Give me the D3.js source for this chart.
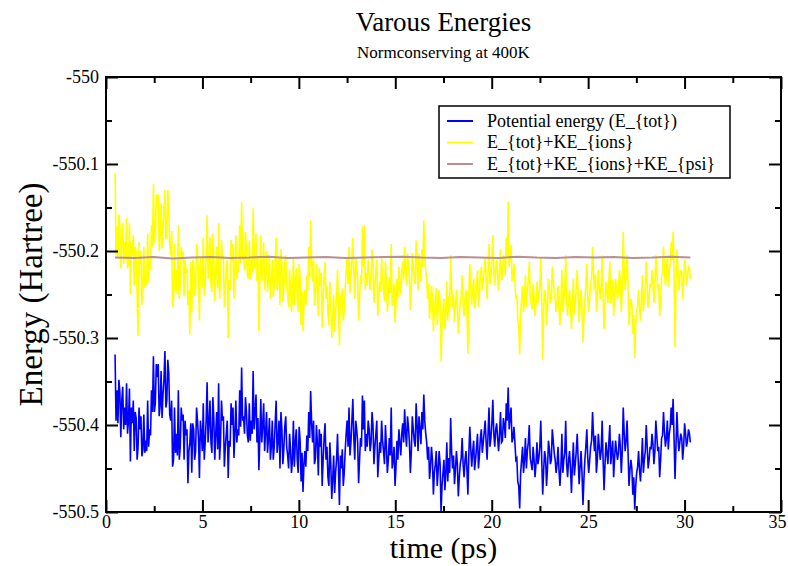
<!DOCTYPE html>
<html>
<head>
<meta charset="utf-8">
<script src="https://cdn.jsdelivr.net/npm/d3@7"></script>
<style>
    body { margin: 0; background: #fff; }
    text { font-family: "Liberation Serif", "Times New Roman", serif; fill: #000; }
</style>
</head>
<body>
<svg id="chart" width="788" height="566"></svg>
<script>
"use strict";

const tStart = 0.47, tEnd = 30.3;

const potentialEnergy = [
    -550.319,-550.395,-550.360,-550.398,-550.348,-550.362,-550.414,-550.372,-550.356,-550.405,-550.380,-550.400,-550.352,-550.410,-550.395,-550.358,-550.442,-550.380,-550.398,-550.372,
    -550.430,-550.385,-550.392,-550.440,-550.425,-550.380,-550.405,-550.390,-550.436,-550.428,-550.388,-550.432,-550.418,-550.430,-550.372,-550.425,-550.405,-550.412,-550.360,-550.385,
    -550.321,-550.385,-550.375,-550.330,-550.345,-550.330,-550.390,-550.378,-550.338,-550.392,-550.365,-550.348,-550.315,-550.380,-550.372,-550.325,-550.340,-550.388,-550.395,-550.372,
    -550.448,-550.440,-550.380,-550.432,-550.410,-550.435,-550.360,-550.440,-550.425,-550.380,-550.395,-550.388,-550.440,-550.395,-550.412,-550.405,-550.467,-550.430,-550.420,-550.398,
    -550.455,-550.398,-550.405,-550.440,-550.430,-550.380,-550.395,-550.415,-550.461,-550.395,-550.410,-550.430,-550.375,-550.440,-550.420,-550.395,-550.351,-550.420,-550.398,-550.372,
    -550.420,-550.432,-550.368,-550.392,-550.440,-550.410,-550.385,-550.428,-550.352,-550.440,-550.418,-550.372,-550.395,-550.390,-550.448,-550.425,-550.410,-550.395,-550.461,-550.418,
    -550.425,-550.375,-550.400,-550.380,-550.438,-550.410,-550.372,-550.420,-550.405,-550.412,-550.360,-550.402,-550.334,-550.395,-550.390,-550.410,-550.368,-550.385,-550.412,-550.420,
    -550.375,-550.418,-550.395,-550.410,-550.338,-550.405,-550.385,-550.365,-550.420,-550.392,-550.452,-550.415,-550.370,-550.420,-550.400,-550.375,-550.430,-550.408,-550.385,-550.432,
    -550.415,-550.392,-550.440,-550.425,-550.395,-550.440,-550.425,-550.398,-550.372,-550.432,-550.418,-550.395,-550.450,-550.385,-550.405,-550.445,-550.428,-550.402,-550.390,-550.425,
    -550.435,-550.450,-550.410,-550.428,-550.455,-550.440,-550.395,-550.448,-550.420,-550.405,-550.440,-550.455,-550.402,-550.418,-550.465,-550.432,-550.477,-550.445,-550.430,-550.448,
    -550.412,-550.430,-550.385,-550.415,-550.361,-550.398,-550.420,-550.395,-550.445,-550.438,-550.400,-550.420,-550.458,-550.405,-550.425,-550.410,-550.470,-550.440,-550.415,-550.398,
    -550.440,-550.425,-550.460,-550.470,-550.420,-550.445,-550.485,-550.462,-550.435,-550.478,-550.455,-550.440,-550.410,-550.450,-550.492,-550.435,-550.450,-550.428,-550.470,-550.455,
    -550.430,-550.410,-550.395,-550.425,-550.380,-550.435,-550.420,-550.395,-550.370,-550.415,-550.440,-550.395,-550.405,-550.420,-550.467,-550.440,-550.415,-550.425,-550.366,-550.405,
    -550.372,-550.430,-550.410,-550.425,-550.395,-550.405,-550.430,-550.420,-550.385,-550.400,-550.445,-550.425,-550.410,-550.395,-550.460,-550.440,-550.420,-550.432,-550.395,-550.418,
    -550.430,-550.445,-550.400,-550.425,-550.455,-550.440,-550.415,-550.435,-550.380,-550.450,-550.440,-550.425,-550.470,-550.448,-550.418,-550.440,-550.405,-550.420,-550.435,-550.410,
    -550.398,-550.420,-550.382,-550.410,-550.425,-550.390,-550.402,-550.420,-550.455,-550.430,-550.390,-550.405,-550.418,-550.425,-550.375,-550.400,-550.430,-550.390,-550.405,-550.422,
    -550.385,-550.405,-550.365,-550.395,-550.410,-550.420,-550.440,-550.425,-550.462,-550.448,-550.425,-550.440,-550.480,-550.455,-550.445,-550.430,-550.470,-550.452,-550.430,-550.445,
    -550.500,-550.470,-550.455,-550.440,-550.475,-550.455,-550.420,-550.465,-550.438,-550.455,-550.392,-550.430,-550.450,-550.435,-550.468,-550.452,-550.430,-550.445,-550.482,-550.460,
    -550.445,-550.438,-550.415,-550.445,-550.460,-550.440,-550.430,-550.452,-550.480,-550.432,-550.402,-550.428,-550.448,-550.430,-550.418,-550.452,-550.440,-550.425,-550.410,-550.450,
    -550.435,-550.415,-550.405,-550.432,-550.420,-550.408,-550.395,-550.420,-550.440,-550.410,-550.380,-550.425,-550.415,-550.398,-550.371,-550.410,-550.425,-550.405,-550.398,-550.415,
    -550.430,-550.410,-550.385,-550.420,-550.418,-550.392,-550.400,-550.415,-550.375,-550.395,-550.357,-550.405,-550.392,-550.380,-550.420,-550.415,-550.402,-550.420,-550.440,-550.438,
    -550.465,-550.470,-550.496,-550.455,-550.440,-550.425,-550.455,-550.440,-550.415,-550.450,-550.430,-550.420,-550.400,-550.438,-550.445,-550.452,-550.425,-550.440,-550.460,-550.445,
    -550.420,-550.445,-550.438,-550.425,-550.395,-550.440,-550.480,-550.452,-550.430,-550.438,-550.470,-550.450,-550.418,-550.428,-550.445,-550.440,-550.405,-550.418,-550.432,-550.440,
    -550.455,-550.445,-550.425,-550.452,-550.470,-550.448,-550.410,-550.455,-550.440,-550.432,-550.395,-550.445,-550.460,-550.440,-550.430,-550.450,-550.478,-550.445,-550.420,-550.458,
    -550.445,-550.430,-550.410,-550.440,-550.468,-550.448,-550.430,-550.455,-550.492,-550.462,-550.440,-550.425,-550.405,-550.438,-550.455,-550.440,-550.425,-550.418,-550.385,-550.412,
    -550.430,-550.412,-550.455,-550.440,-550.410,-550.425,-550.440,-550.430,-550.395,-550.440,-550.475,-550.445,-550.420,-550.432,-550.445,-550.420,-550.400,-550.445,-550.430,-550.418,
    -550.460,-550.438,-550.418,-550.430,-550.440,-550.432,-550.410,-550.425,-550.455,-550.430,-550.380,-550.410,-550.430,-550.418,-550.395,-550.430,-550.470,-550.452,-550.440,-550.450,
    -550.480,-550.460,-550.497,-550.470,-550.455,-550.448,-550.430,-550.452,-550.465,-550.442,-550.415,-550.455,-550.440,-550.430,-550.400,-550.425,-550.450,-550.440,-550.425,-550.428,
    -550.410,-550.422,-550.445,-550.430,-550.395,-550.412,-550.430,-550.425,-550.460,-550.440,-550.415,-550.412,-550.385,-550.408,-550.425,-550.415,-550.395,-550.428,-550.410,-550.402,
    -550.380,-550.400,-550.370,-550.415,-550.462,-550.425,-550.385,-550.412,-550.430,-550.420,-550.410,-550.415,-550.440,-550.425,-550.398,-550.410,-550.425,-550.418,-550.405,-550.410,
    -550.420
];

const totPlusKeIons = [
    -550.110,-550.205,-550.172,-550.208,-550.158,-550.172,-550.220,-550.182,-550.168,-550.215,-550.190,-550.210,-550.162,-550.220,-550.215,-550.168,-550.250,-550.190,-550.205,-550.182,
    -550.240,-550.195,-550.202,-550.250,-550.298,-550.190,-550.215,-550.200,-550.262,-550.238,-550.195,-550.242,-550.228,-550.240,-550.180,-550.235,-550.212,-550.222,-550.170,-550.195,
    -550.123,-550.190,-550.182,-550.135,-550.150,-550.135,-550.200,-550.183,-550.145,-550.197,-550.175,-550.153,-550.130,-550.185,-550.185,-550.130,-550.152,-550.193,-550.205,-550.177,
    -550.265,-550.255,-550.192,-550.247,-550.222,-550.250,-550.170,-550.255,-550.240,-550.195,-550.205,-550.203,-550.252,-550.210,-550.225,-550.220,-550.262,-550.245,-550.296,-550.213,
    -550.270,-550.210,-550.215,-550.252,-550.242,-550.192,-550.205,-550.227,-550.280,-550.207,-550.222,-550.242,-550.185,-550.252,-550.235,-550.207,-550.159,-550.232,-550.210,-550.184,
    -550.238,-550.247,-550.180,-550.207,-550.258,-550.225,-550.195,-550.243,-550.168,-550.255,-550.232,-550.187,-550.210,-550.205,-550.265,-550.240,-550.225,-550.210,-550.300,-550.233,
    -550.245,-550.187,-550.212,-550.192,-550.255,-550.222,-550.182,-550.232,-550.220,-550.224,-550.170,-550.214,-550.144,-550.207,-550.205,-550.222,-550.178,-550.197,-550.228,-550.232,
    -550.188,-550.233,-550.210,-550.225,-550.151,-550.220,-550.198,-550.180,-550.235,-550.207,-550.292,-550.230,-550.182,-550.235,-550.218,-550.190,-550.245,-550.223,-550.200,-550.247,
    -550.228,-550.205,-550.255,-550.238,-550.210,-550.253,-550.240,-550.211,-550.185,-550.245,-550.232,-550.208,-550.262,-550.198,-550.218,-550.258,-550.242,-550.215,-550.205,-550.238,
    -550.250,-550.265,-550.222,-550.243,-550.270,-550.255,-550.208,-550.263,-550.235,-550.220,-550.255,-550.270,-550.215,-550.233,-550.285,-550.247,-550.292,-550.260,-550.245,-550.263,
    -550.228,-550.245,-550.195,-550.230,-550.165,-550.213,-550.235,-550.210,-550.262,-550.253,-550.215,-550.235,-550.275,-550.220,-550.240,-550.225,-550.288,-550.255,-550.230,-550.213,
    -550.255,-550.240,-550.272,-550.285,-550.235,-550.260,-550.300,-550.277,-550.250,-550.293,-550.268,-550.255,-550.222,-550.265,-550.308,-550.250,-550.262,-550.243,-550.280,-550.270,
    -550.245,-550.223,-550.208,-550.238,-550.195,-550.248,-550.232,-550.208,-550.185,-550.228,-550.255,-550.208,-550.218,-550.233,-550.280,-550.253,-550.228,-550.238,-550.172,-550.218,
    -550.170,-550.245,-550.225,-550.240,-550.210,-550.220,-550.245,-550.235,-550.198,-550.215,-550.260,-550.240,-550.222,-550.210,-550.275,-550.255,-550.235,-550.247,-550.208,-550.233,
    -550.245,-550.258,-550.212,-550.238,-550.270,-550.253,-550.230,-550.248,-550.192,-550.263,-550.255,-550.238,-550.282,-550.261,-550.232,-550.253,-550.218,-550.233,-550.250,-550.223,
    -550.212,-550.233,-550.195,-550.223,-550.240,-550.203,-550.215,-550.233,-550.268,-550.243,-550.202,-550.218,-550.232,-550.238,-550.188,-550.213,-550.245,-550.203,-550.218,-550.235,
    -550.198,-550.218,-550.165,-550.208,-550.222,-550.233,-550.255,-550.238,-550.278,-550.261,-550.240,-550.253,-550.292,-550.268,-550.258,-550.243,-550.285,-550.265,-550.245,-550.258,
    -550.327,-550.285,-550.270,-550.255,-550.290,-550.270,-550.235,-550.280,-550.252,-550.270,-550.205,-550.245,-550.265,-550.250,-550.282,-550.267,-550.245,-550.260,-550.295,-550.275,
    -550.260,-550.252,-550.228,-550.259,-550.275,-550.254,-550.245,-550.266,-550.318,-550.246,-550.215,-550.242,-550.262,-550.244,-550.232,-550.266,-550.255,-550.239,-550.222,-550.264,
    -550.250,-550.228,-550.218,-550.245,-550.235,-550.221,-550.208,-550.233,-550.255,-550.223,-550.192,-550.238,-550.228,-550.211,-550.182,-550.223,-550.240,-550.218,-550.210,-550.228,
    -550.245,-550.223,-550.198,-550.233,-550.232,-550.205,-550.212,-550.228,-550.185,-550.208,-550.143,-550.218,-550.205,-550.193,-550.235,-550.228,-550.215,-550.233,-550.255,-550.251,
    -550.280,-550.285,-550.319,-550.270,-550.255,-550.240,-550.270,-550.255,-550.228,-550.265,-550.245,-550.235,-550.212,-550.253,-550.260,-550.267,-550.238,-550.255,-550.275,-550.260,
    -550.235,-550.260,-550.252,-550.240,-550.208,-550.255,-550.325,-550.267,-550.245,-550.253,-550.285,-550.265,-550.232,-550.243,-550.260,-550.255,-550.218,-550.233,-550.248,-550.255,
    -550.270,-550.260,-550.240,-550.267,-550.285,-550.263,-550.222,-550.270,-550.255,-550.247,-550.205,-550.260,-550.275,-550.255,-550.245,-550.265,-550.290,-550.260,-550.232,-550.273,
    -550.260,-550.243,-550.222,-550.253,-550.282,-550.261,-550.245,-550.268,-550.305,-550.275,-550.255,-550.238,-550.215,-550.251,-550.270,-550.253,-550.238,-550.231,-550.195,-550.225,
    -550.245,-550.227,-550.270,-550.255,-550.222,-550.240,-550.255,-550.245,-550.205,-550.255,-550.290,-550.260,-550.235,-550.247,-550.260,-550.235,-550.212,-550.260,-550.245,-550.233,
    -550.275,-550.251,-550.232,-550.243,-550.255,-550.245,-550.222,-550.238,-550.270,-550.243,-550.178,-550.223,-550.245,-550.231,-550.205,-550.243,-550.285,-550.265,-550.255,-550.263,
    -550.295,-550.274,-550.323,-550.284,-550.270,-550.262,-550.245,-550.266,-550.280,-550.256,-550.228,-550.269,-550.255,-550.244,-550.212,-550.239,-550.265,-550.254,-550.238,-550.242,
    -550.222,-550.235,-550.260,-550.243,-550.205,-550.225,-550.245,-550.238,-550.275,-550.253,-550.228,-550.225,-550.195,-550.221,-550.240,-550.228,-550.205,-550.241,-550.222,-550.215,
    -550.190,-550.210,-550.178,-550.225,-550.311,-550.235,-550.198,-550.222,-550.245,-550.230,-550.222,-550.225,-550.255,-550.235,-550.210,-550.220,-550.240,-550.228,-550.218,-550.220,
    -550.232
];

const totPlusKeIonsPsi = [
    -550.2075, -550.2080, -550.2070, -550.2085, -550.2075, -550.2070, -550.2080, -550.2075, -550.2065, -550.2080,
    -550.2075, -550.2070, -550.2080, -550.2075, -550.2070, -550.2065, -550.2075, -550.2080, -550.2070, -550.2075,
    -550.2080, -550.2065, -550.2075, -550.2080, -550.2070, -550.2075, -550.2070, -550.2080, -550.2075, -550.2065,
    -550.2075
];

const seriesNames = ["Potential energy (E_{tot})", "E_{tot}+KE_{ions}", "E_{tot}+KE_{ions}+KE_{psi}"];
const seriesColors = ["#0000ff", "#ffff00", "#bc8f8f"];

const xMajor = [0, 5, 10, 15, 20, 25, 30, 35];
const xMinor = [2.5, 7.5, 12.5, 17.5, 22.5, 27.5, 32.5];
const yMajor = [-550.5, -550.4, -550.3, -550.2, -550.1, -550];
const yMinor = [-550.45, -550.35, -550.25, -550.15, -550.05];
const yLabels = ["-550.5", "-550.4", "-550.3", "-550.2", "-550.1", "-550"];

(function () {
    const svg = d3.select("#chart");
    const margin = { left: 106, right: 7, top: 77, bottom: 54 };
    const width = 788 - margin.left - margin.right,
        height = 566 - margin.top - margin.bottom;

    const x = d3.scaleLinear().domain([0, 35]).range([0, width]);
    const y = d3.scaleLinear().domain([-550.5, -550]).range([height, 0]);

    const g = svg.append("g")
        .attr("transform", "translate(" + margin.left + "," + margin.top + ")");

    g.append("clipPath").attr("id", "plotclip")
        .append("rect").attr("width", width).attr("height", height);

    //// series
    function toPoints(values) {
        const step = (tEnd - tStart) / (values.length - 1);
        return values.map(function (v, i) { return [tStart + i * step, v]; });
    }

    const line = d3.line()
        .x(function (d) { return x(d[0]); })
        .y(function (d) { return y(d[1]); });

    const plot = g.append("g").attr("clip-path", "url(#plotclip)");
    [potentialEnergy, totPlusKeIons, totPlusKeIonsPsi].forEach(function (values, i) {
        plot.append("path")
            .datum(toPoints(values))
            .attr("fill", "none")
            .attr("stroke", seriesColors[i])
            .attr("stroke-width", i === 2 ? 2 : 1.6)
            .attr("d", line);
    });

    //// axes, ticks pointing inward on all four sides
    function styleAxis(sel) {
        sel.select(".domain").remove();
        sel.selectAll(".tick line").attr("stroke", "#000").attr("stroke-width", 2);
        sel.selectAll(".tick text").style("font-size", "18px")
            .style("font-family", "'Liberation Serif', 'Times New Roman', serif");
    }

    g.append("g").attr("transform", "translate(0," + height + ")")
        .call(d3.axisBottom(x).tickValues(xMajor).tickSize(-12).tickPadding(3).tickFormat(d3.format("d")))
        .call(styleAxis)
        .call(function (ax) {
            // keep the last label inside the window
            ax.selectAll(".tick text").filter(function (d) { return d === 35; })
                .attr("text-anchor", "end").attr("x", 5);
        });
    g.append("g").attr("transform", "translate(0," + height + ")")
        .call(d3.axisBottom(x).tickValues(xMinor).tickSize(-6).tickFormat(""))
        .call(styleAxis);
    g.append("g")
        .call(d3.axisTop(x).tickValues(xMajor).tickSize(-12).tickFormat(""))
        .call(styleAxis);
    g.append("g")
        .call(d3.axisTop(x).tickValues(xMinor).tickSize(-6).tickFormat(""))
        .call(styleAxis);

    g.append("g")
        .call(d3.axisLeft(y).tickValues(yMajor).tickSize(-12).tickPadding(7)
            .tickFormat(function (d, i) { return yLabels[i]; }))
        .call(styleAxis);
    g.append("g")
        .call(d3.axisLeft(y).tickValues(yMinor).tickSize(-6).tickFormat(""))
        .call(styleAxis);
    g.append("g").attr("transform", "translate(" + width + ",0)")
        .call(d3.axisRight(y).tickValues(yMajor).tickSize(-12).tickFormat(""))
        .call(styleAxis);
    g.append("g").attr("transform", "translate(" + width + ",0)")
        .call(d3.axisRight(y).tickValues(yMinor).tickSize(-6).tickFormat(""))
        .call(styleAxis);

    g.append("rect")
        .attr("width", width).attr("height", height)
        .attr("fill", "none").attr("stroke", "#000").attr("stroke-width", 2);

    //// titles
    svg.append("text")
        .attr("x", margin.left + width / 2).attr("y", 31)
        .attr("text-anchor", "middle").style("font-size", "27px")
        .text("Varous Energies");
    svg.append("text")
        .attr("x", margin.left + width / 2).attr("y", 58)
        .attr("text-anchor", "middle").style("font-size", "17px")
        .text("Normconserving at 400K");
    svg.append("text")
        .attr("x", margin.left + width / 2).attr("y", 558)
        .attr("text-anchor", "middle").style("font-size", "30px")
        .text("time (ps)");
    svg.append("text")
        .attr("transform", "translate(42," + (margin.top + height / 2) + ") rotate(-90)")
        .attr("text-anchor", "middle").style("font-size", "33px")
        .text("Energy (Hartree)");

    //// legend
    const legend = svg.append("g").attr("transform", "translate(439,106)");
    legend.append("rect")
        .attr("width", 291).attr("height", 72)
        .attr("fill", "#fff").attr("stroke", "#000").attr("stroke-width", 1.5);
    seriesNames.forEach(function (name, i) {
        const row = legend.append("g").attr("transform", "translate(0," + (15 + i * 21.5) + ")");
        row.append("line")
            .attr("x1", 8).attr("x2", 34)
            .attr("stroke", seriesColors[i]).attr("stroke-width", 2);
        row.append("text")
            .attr("x", 48).attr("dy", "0.33em")
            .style("font-size", "18px")
            .text(name);
    });
})();
</script>
</body>
</html>
